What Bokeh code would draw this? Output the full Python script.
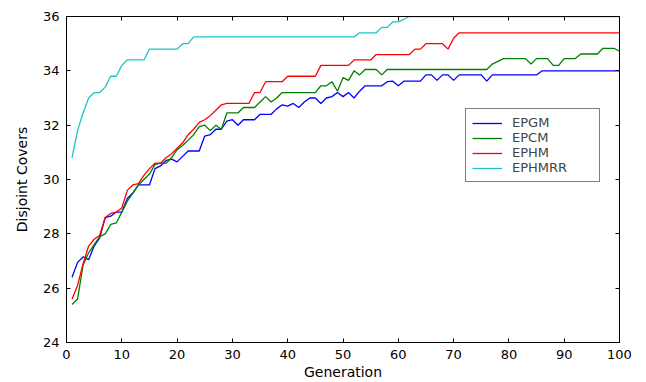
from bokeh.plotting import figure
from bokeh.models import LinearAxis, Range1d, SingleIntervalTicker, Legend, LegendItem, CustomJSTickFormatter
from bokeh.embed import file_html
from bokeh.resources import INLINE

generations = list(range(1, 101))

epgm = [26.4, 26.95, 27.15, 27.05, 27.55, 27.85, 28.6, 28.65, 28.8, 28.8,
        29.3, 29.5, 29.8, 29.8, 29.8, 30.4, 30.5, 30.7, 30.75, 30.65,
        30.85, 31.05, 31.05, 31.05, 31.6, 31.65, 31.85, 31.85, 32.15, 32.2,
        32.0, 32.2, 32.2, 32.2, 32.4, 32.4, 32.4, 32.6, 32.75, 32.7,
        32.8, 32.65, 32.85, 33.0, 33.0, 32.8, 33.0, 33.05, 33.2, 33.05,
        33.2, 33.0, 33.25, 33.45, 33.45, 33.45, 33.45, 33.6, 33.62, 33.45,
        33.62, 33.62, 33.62, 33.62, 33.85, 33.85, 33.65, 33.85, 33.85, 33.65,
        33.85, 33.85, 33.85, 33.85, 33.85, 33.62, 33.85, 33.85, 33.85, 33.85,
        33.85, 33.85, 33.85, 33.85, 33.85, 34.0, 34.0, 34.0, 34.0, 34.0,
        34.0, 34.0, 34.0, 34.0, 34.0, 34.0, 34.0, 34.0, 34.0, 34.0]

epcm = [25.4, 25.6, 26.85, 27.3, 27.6, 27.9, 28.0, 28.35, 28.4, 28.8,
        29.2, 29.5, 29.8, 30.0, 30.2, 30.55, 30.6, 30.6, 30.8, 31.1,
        31.25, 31.45, 31.65, 31.95, 32.0, 31.8, 32.0, 31.85, 32.45, 32.45,
        32.45, 32.65, 32.65, 32.65, 32.85, 33.05, 32.85, 33.0, 33.2, 33.2,
        33.2, 33.2, 33.2, 33.2, 33.2, 33.45, 33.45, 33.6, 33.25, 33.75,
        33.65, 34.0, 33.85, 34.05, 34.05, 34.05, 33.85, 34.05, 34.05, 34.05,
        34.05, 34.05, 34.05, 34.05, 34.05, 34.05, 34.05, 34.05, 34.05, 34.05,
        34.05, 34.05, 34.05, 34.05, 34.05, 34.05, 34.25, 34.35, 34.45, 34.45,
        34.45, 34.45, 34.45, 34.25, 34.45, 34.45, 34.45, 34.2, 34.2, 34.45,
        34.45, 34.45, 34.62, 34.62, 34.62, 34.62, 34.83, 34.83, 34.83, 34.72]

ephm = [25.6, 26.1, 26.9, 27.55, 27.8, 27.95, 28.6, 28.75, 28.8, 28.95,
        29.6, 29.8, 29.85, 30.15, 30.4, 30.6, 30.6, 30.8, 30.95, 31.15,
        31.35, 31.65, 31.85, 32.1, 32.2, 32.35, 32.55, 32.75, 32.8, 32.8,
        32.8, 32.8, 32.8, 33.2, 33.2, 33.6, 33.6, 33.6, 33.6, 33.8,
        33.8, 33.8, 33.8, 33.8, 33.8, 34.2, 34.2, 34.2, 34.2, 34.2,
        34.2, 34.4, 34.4, 34.4, 34.4, 34.6, 34.6, 34.6, 34.6, 34.6,
        34.6, 34.6, 34.8, 34.8, 35.0, 35.0, 35.0, 35.0, 34.8, 35.2,
        35.4, 35.4, 35.4, 35.4, 35.4, 35.4, 35.4, 35.4, 35.4, 35.4,
        35.4, 35.4, 35.4, 35.4, 35.4, 35.4, 35.4, 35.4, 35.4, 35.4,
        35.4, 35.4, 35.4, 35.4, 35.4, 35.4, 35.4, 35.4, 35.4, 35.4]

ephmrr = [30.8, 31.8, 32.45, 33.0, 33.2, 33.2, 33.4, 33.8, 33.8, 34.2,
          34.4, 34.4, 34.4, 34.4, 34.8, 34.8, 34.8, 34.8, 34.8, 34.8,
          35.0, 35.0, 35.25, 35.25, 35.25, 35.25, 35.25, 35.25, 35.25, 35.25,
          35.25, 35.25, 35.25, 35.25, 35.25, 35.25, 35.25, 35.25, 35.25, 35.25,
          35.25, 35.25, 35.25, 35.25, 35.25, 35.25, 35.25, 35.25, 35.25, 35.25,
          35.25, 35.25, 35.4, 35.4, 35.4, 35.4, 35.6, 35.6, 35.8, 35.8,
          35.9, 36.0, 36.0, 36.0, 36.0, 36.0, 36.0, 36.0, 36.0, 36.0,
          36.0, 36.0, 36.0, 36.0, 36.0, 36.0, 36.0, 36.0, 36.0, 36.0,
          36.0, 36.0, 36.0, 36.0, 36.0, 36.0, 36.0, 36.0, 36.0, 36.0,
          36.0, 36.0, 36.0, 36.0, 36.0, 36.0, 36.0, 36.0, 36.0, 36.0]

series_names = ["EPGM", "EPCM", "EPHM", "EPHMRR"]
series_values = [epgm, epcm, ephm, ephmrr]
series_colors = ["#0000ff", "#008000", "#ff0000", "#1cc4c4"]

x_label = "Generation"
y_label = "Disjoint Covers"

FONT = "DejaVu Sans"

p = figure(width=646, height=382, output_backend="svg", toolbar_location=None,
           x_range=Range1d(0, 100), y_range=Range1d(24, 36),
           min_border_left=66, min_border_right=27, min_border_top=16, min_border_bottom=34)
p.background_fill_color = "white"
p.border_fill_color = "white"
p.outline_line_color = "black"
p.outline_line_width = 1
p.xgrid.visible = False
p.ygrid.visible = False

def style_axis(ax, labels=True):
    ax.axis_line_color = "black"
    ax.major_tick_line_color = "black"
    ax.major_tick_in = 4
    ax.major_tick_out = 0
    ax.minor_tick_line_color = None
    ax.major_label_text_font = FONT
    ax.major_label_text_font_size = "13px"
    ax.major_label_text_color = "black"
    ax.major_label_standoff = 3
    ax.axis_label_text_font = FONT
    ax.axis_label_text_font_size = "14px"
    ax.axis_label_text_font_style = "normal"
    ax.axis_label_text_color = "black"
    ax.axis_label_standoff = 2
    if not labels:
        ax.major_label_text_font_size = "0px"
        ax.major_label_standoff = 0
        ax.formatter = CustomJSTickFormatter(code="return ''")

p.xaxis.ticker = SingleIntervalTicker(interval=10)
p.yaxis.ticker = SingleIntervalTicker(interval=2)
p.xaxis.axis_label = x_label
p.yaxis.axis_label = y_label
style_axis(p.xaxis[0])
style_axis(p.yaxis[0])
p.yaxis[0].axis_label_standoff = 10

top_ax = LinearAxis(ticker=SingleIntervalTicker(interval=10))
right_ax = LinearAxis(ticker=SingleIntervalTicker(interval=2))
style_axis(top_ax, labels=False)
style_axis(right_ax, labels=False)
p.add_layout(top_ax, "above")
p.add_layout(right_ax, "right")

items = []
for name, vals, col in zip(series_names, series_values, series_colors):
    r = p.line(generations, vals, line_color=col, line_width=1.3)
    items.append(LegendItem(label=name, renderers=[r]))

legend = Legend(items=items, location=(399, 160))
legend.label_text_font = FONT
legend.label_text_font_size = "13px"
legend.label_height = 14
legend.glyph_height = 14
legend.glyph_width = 30
legend.label_standoff = 10
legend.label_width = 81
legend.padding = 6
legend.spacing = 0
legend.margin = 0
legend.border_line_color = "black"
legend.border_line_width = 1
legend.background_fill_color = "white"
legend.background_fill_alpha = 1
p.add_layout(legend, "center")

open("out.html", "w").write(file_html(p, INLINE))
